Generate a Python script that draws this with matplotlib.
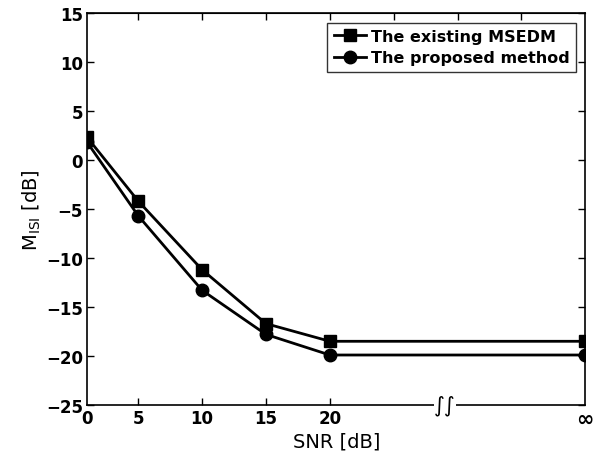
import matplotlib
matplotlib.use("Agg")
import matplotlib.pyplot as plt

# x positions: "0" sits at the left edge, the infinity point at the right edge
snr_pos = [1, 5, 10, 15, 20, 40]
snr_labels = ["0", "5", "10", "15", "20", "\u221e"]
existing_msedm = [2.3, -4.2, -11.2, -16.7, -18.5, -18.5]
proposed = [1.8, -5.7, -13.3, -17.8, -19.9, -19.9]
y_ticks = [-25, -20, -15, -10, -5, 0, 5, 10, 15]
top_ticks = [5, 10, 15, 20, 25, 30, 35]

fig = plt.figure(figsize=(5.93, 4.64), dpi=100)
ax = fig.add_axes([0.147, 0.125, 0.840, 0.845])

ax.plot(snr_pos, existing_msedm, "k-s", lw=2, ms=8, label="The existing MSEDM")
ax.plot(snr_pos, proposed, "k-o", lw=2, ms=9, label="The proposed method")

ax.set_xlim(1, 40)
ax.set_ylim(-25, 15)
ax.set_yticks(y_ticks)
ax.set_yticklabels([f"{v}".replace("-", "\u2212") for v in y_ticks],
                   fontweight="bold", fontsize=12)
ax.set_xticks(snr_pos)
ax.set_xticklabels(snr_labels, fontweight="bold", fontsize=12)
ax.tick_params(direction="in", length=5, width=1, right=True, pad=3)
# no tick marks at the edges / infinity on the bottom axis
for t in (ax.xaxis.get_major_ticks()[0], ax.xaxis.get_major_ticks()[-1]):
    t.tick1line.set_visible(False)
ax.xaxis.get_major_ticks()[-1].label1.set_fontsize(15)

top = ax.secondary_xaxis("top")
top.set_xticks(top_ticks)
top.set_xticklabels([])
top.tick_params(direction="in", length=5, width=1)

for s in ax.spines.values():
    s.set_linewidth(1.2)

# axis break mark
ax.text(29, -25, "\u222b\u222b", ha="center", va="center", fontsize=15,
        bbox=dict(facecolor="white", edgecolor="none", pad=0.3), clip_on=False)

ax.set_xlabel("SNR [dB]", fontsize=14, labelpad=2)
ax.set_ylabel(r"M$_{\mathrm{ISI}}$ [dB]", fontsize=14, labelpad=2)

leg = ax.legend(loc="upper right", frameon=True, fancybox=False,
                edgecolor="black", handlelength=2.0, borderpad=0.4,
                labelspacing=0.4, handletextpad=0.3, borderaxespad=0.6,
                prop={"weight": "bold", "size": 11.5})
leg.get_frame().set_linewidth(1.0)

fig.savefig("out.png", dpi=100)
